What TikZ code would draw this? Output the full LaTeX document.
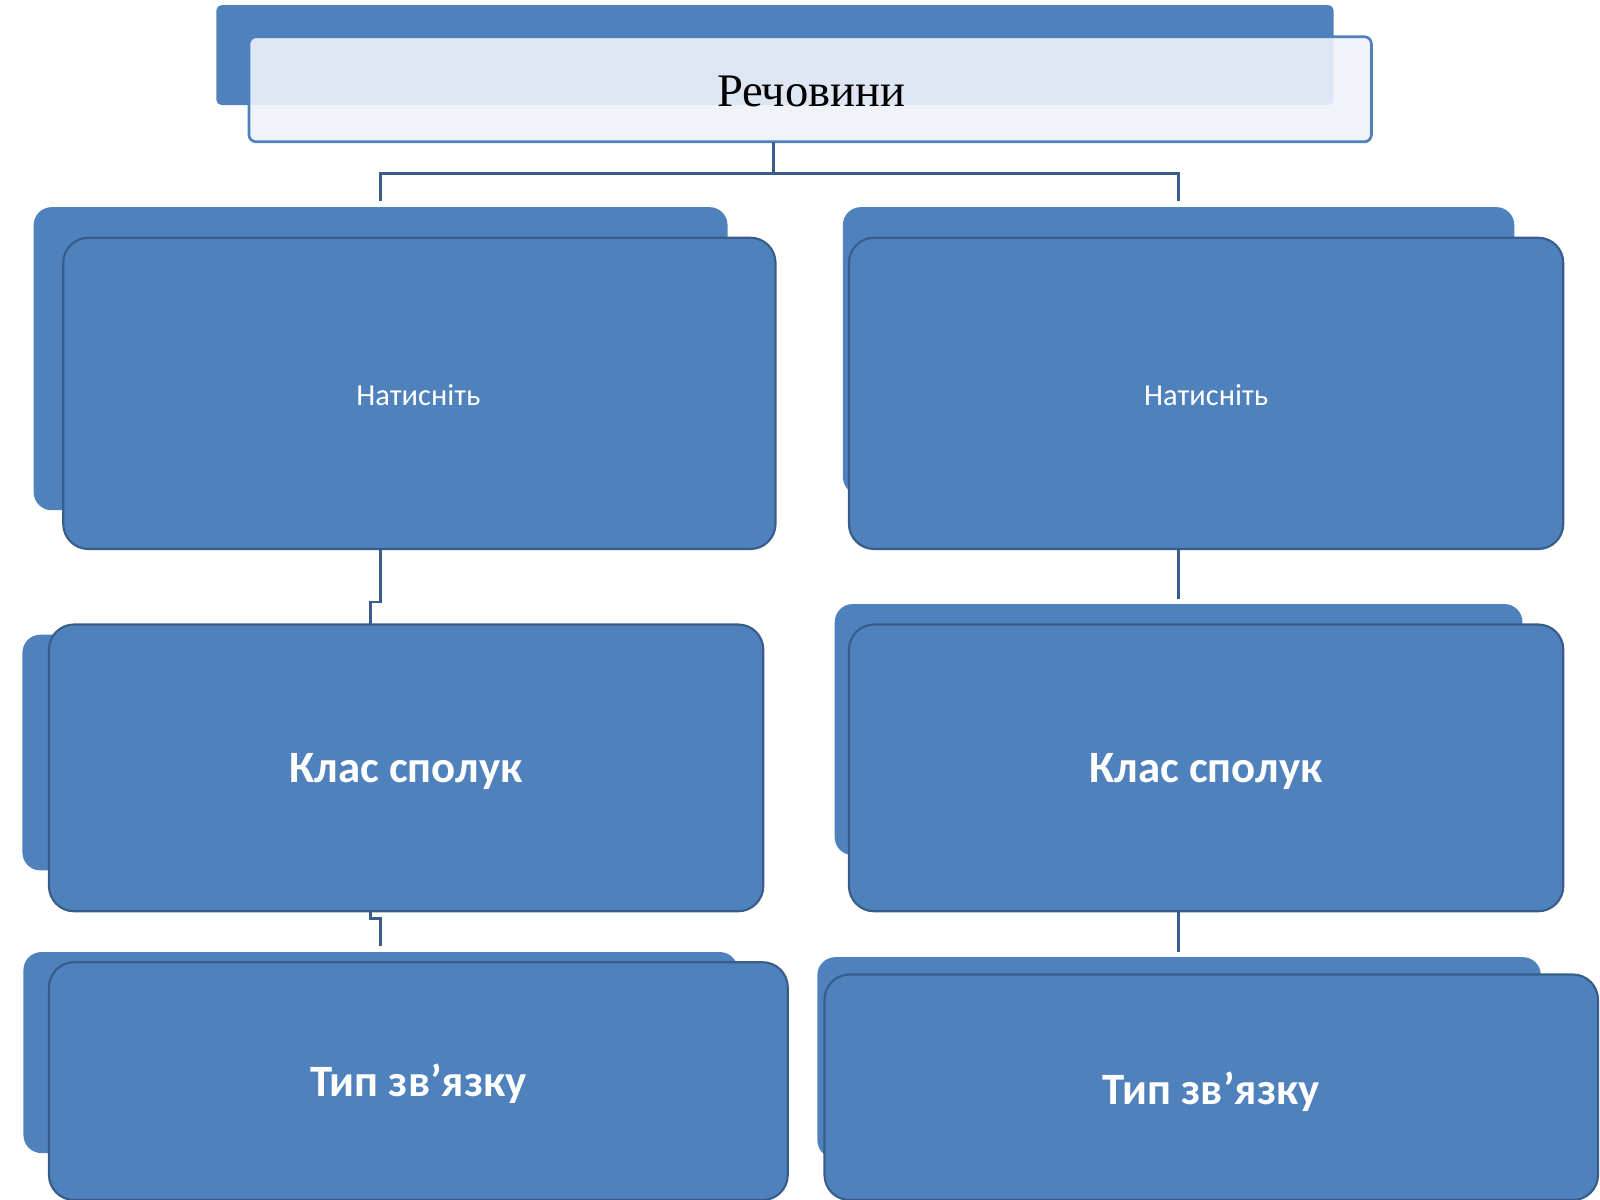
\documentclass[tikz,border=0pt]{standalone}
\usepackage{fontspec}
\setmainfont{Liberation Serif}
\newfontfamily\calfont{Carlito}
\definecolor{bl}{HTML}{4F81BD}
\definecolor{bd}{HTML}{385D8A}
\definecolor{lt}{HTML}{EEF2F9}
\begin{document}
\begin{tikzpicture}[x=0.02cm,y=-0.02cm,
 back/.style={fill=bl,draw=none,rounded corners=10pt},
 front/.style={fill=bl,draw=bd,line width=1.2pt,rounded corners=14pt},
 conn/.style={draw=bd,line width=1.5pt}]
\useasboundingbox (0,0) rectangle (1568,1176);
% top
\fill[bl,rounded corners=3pt] (212,5) rectangle (1307,103);
\draw[fill=lt,fill opacity=0.9,draw=bl,line width=1.5pt,rounded corners=4pt] (244,36) rectangle (1344,139);
\node (top) at (795,90) {\fontsize{26}{30}\selectfont Речовини};
\coordinate (t0) at (758,139);
\draw[conn] (t0) -- (758,170) -- (373,170) -- (373,197);
\draw[conn] (758,170) -- (1155,170) -- (1155,197);
% row1
\fill[back] (33,203) rectangle (713,500);
\draw[front] (62,233) rectangle (760,538);
\node[white] (a1) at (410,387) {\calfont\fontsize{17}{20}\selectfont Натисніть};
\fill[back] (826,203) rectangle (1484,485);
\draw[front] (832,233) rectangle (1532,538);
\node[white] (b1) at (1182,387) {\calfont\fontsize{17}{20}\selectfont Натисніть};
% connectors
\draw[conn] (373,538) -- (373,590) -- (363,590) -- (363,612);
\draw[conn] (1155,538) -- (1155,587);
% row2
\fill[back] (22,622) rectangle (700,853);
\draw[front] (48,612) rectangle (748,893);
\node[white] (a2) at (398,756) {\calfont\bfseries\fontsize{25}{30}\selectfont Клас сполук};
\fill[back] (818,592) rectangle (1492,838);
\draw[front] (832,612) rectangle (1532,893);
\node[white] (b2) at (1182,756) {\calfont\bfseries\fontsize{25}{30}\selectfont Клас сполук};
\draw[conn] (363,893) -- (363,900) -- (373,900) -- (373,927);
\draw[conn] (1155,893) -- (1155,933);
% row3
\fill[back] (23,933) rectangle (723,1130);
\draw[front] (48,943) rectangle (772,1176);
\node[white] (a3) at (410,1062) {\calfont\bfseries\fontsize{25}{30}\selectfont Тип зв’язку};
\fill[back] (801,938) rectangle (1510,1135);
\draw[front] (808,955) rectangle (1566,1176);
\node[white] (b3) at (1187,1070) {\calfont\bfseries\fontsize{25}{30}\selectfont Тип зв’язку};
\end{tikzpicture}
\end{document}
